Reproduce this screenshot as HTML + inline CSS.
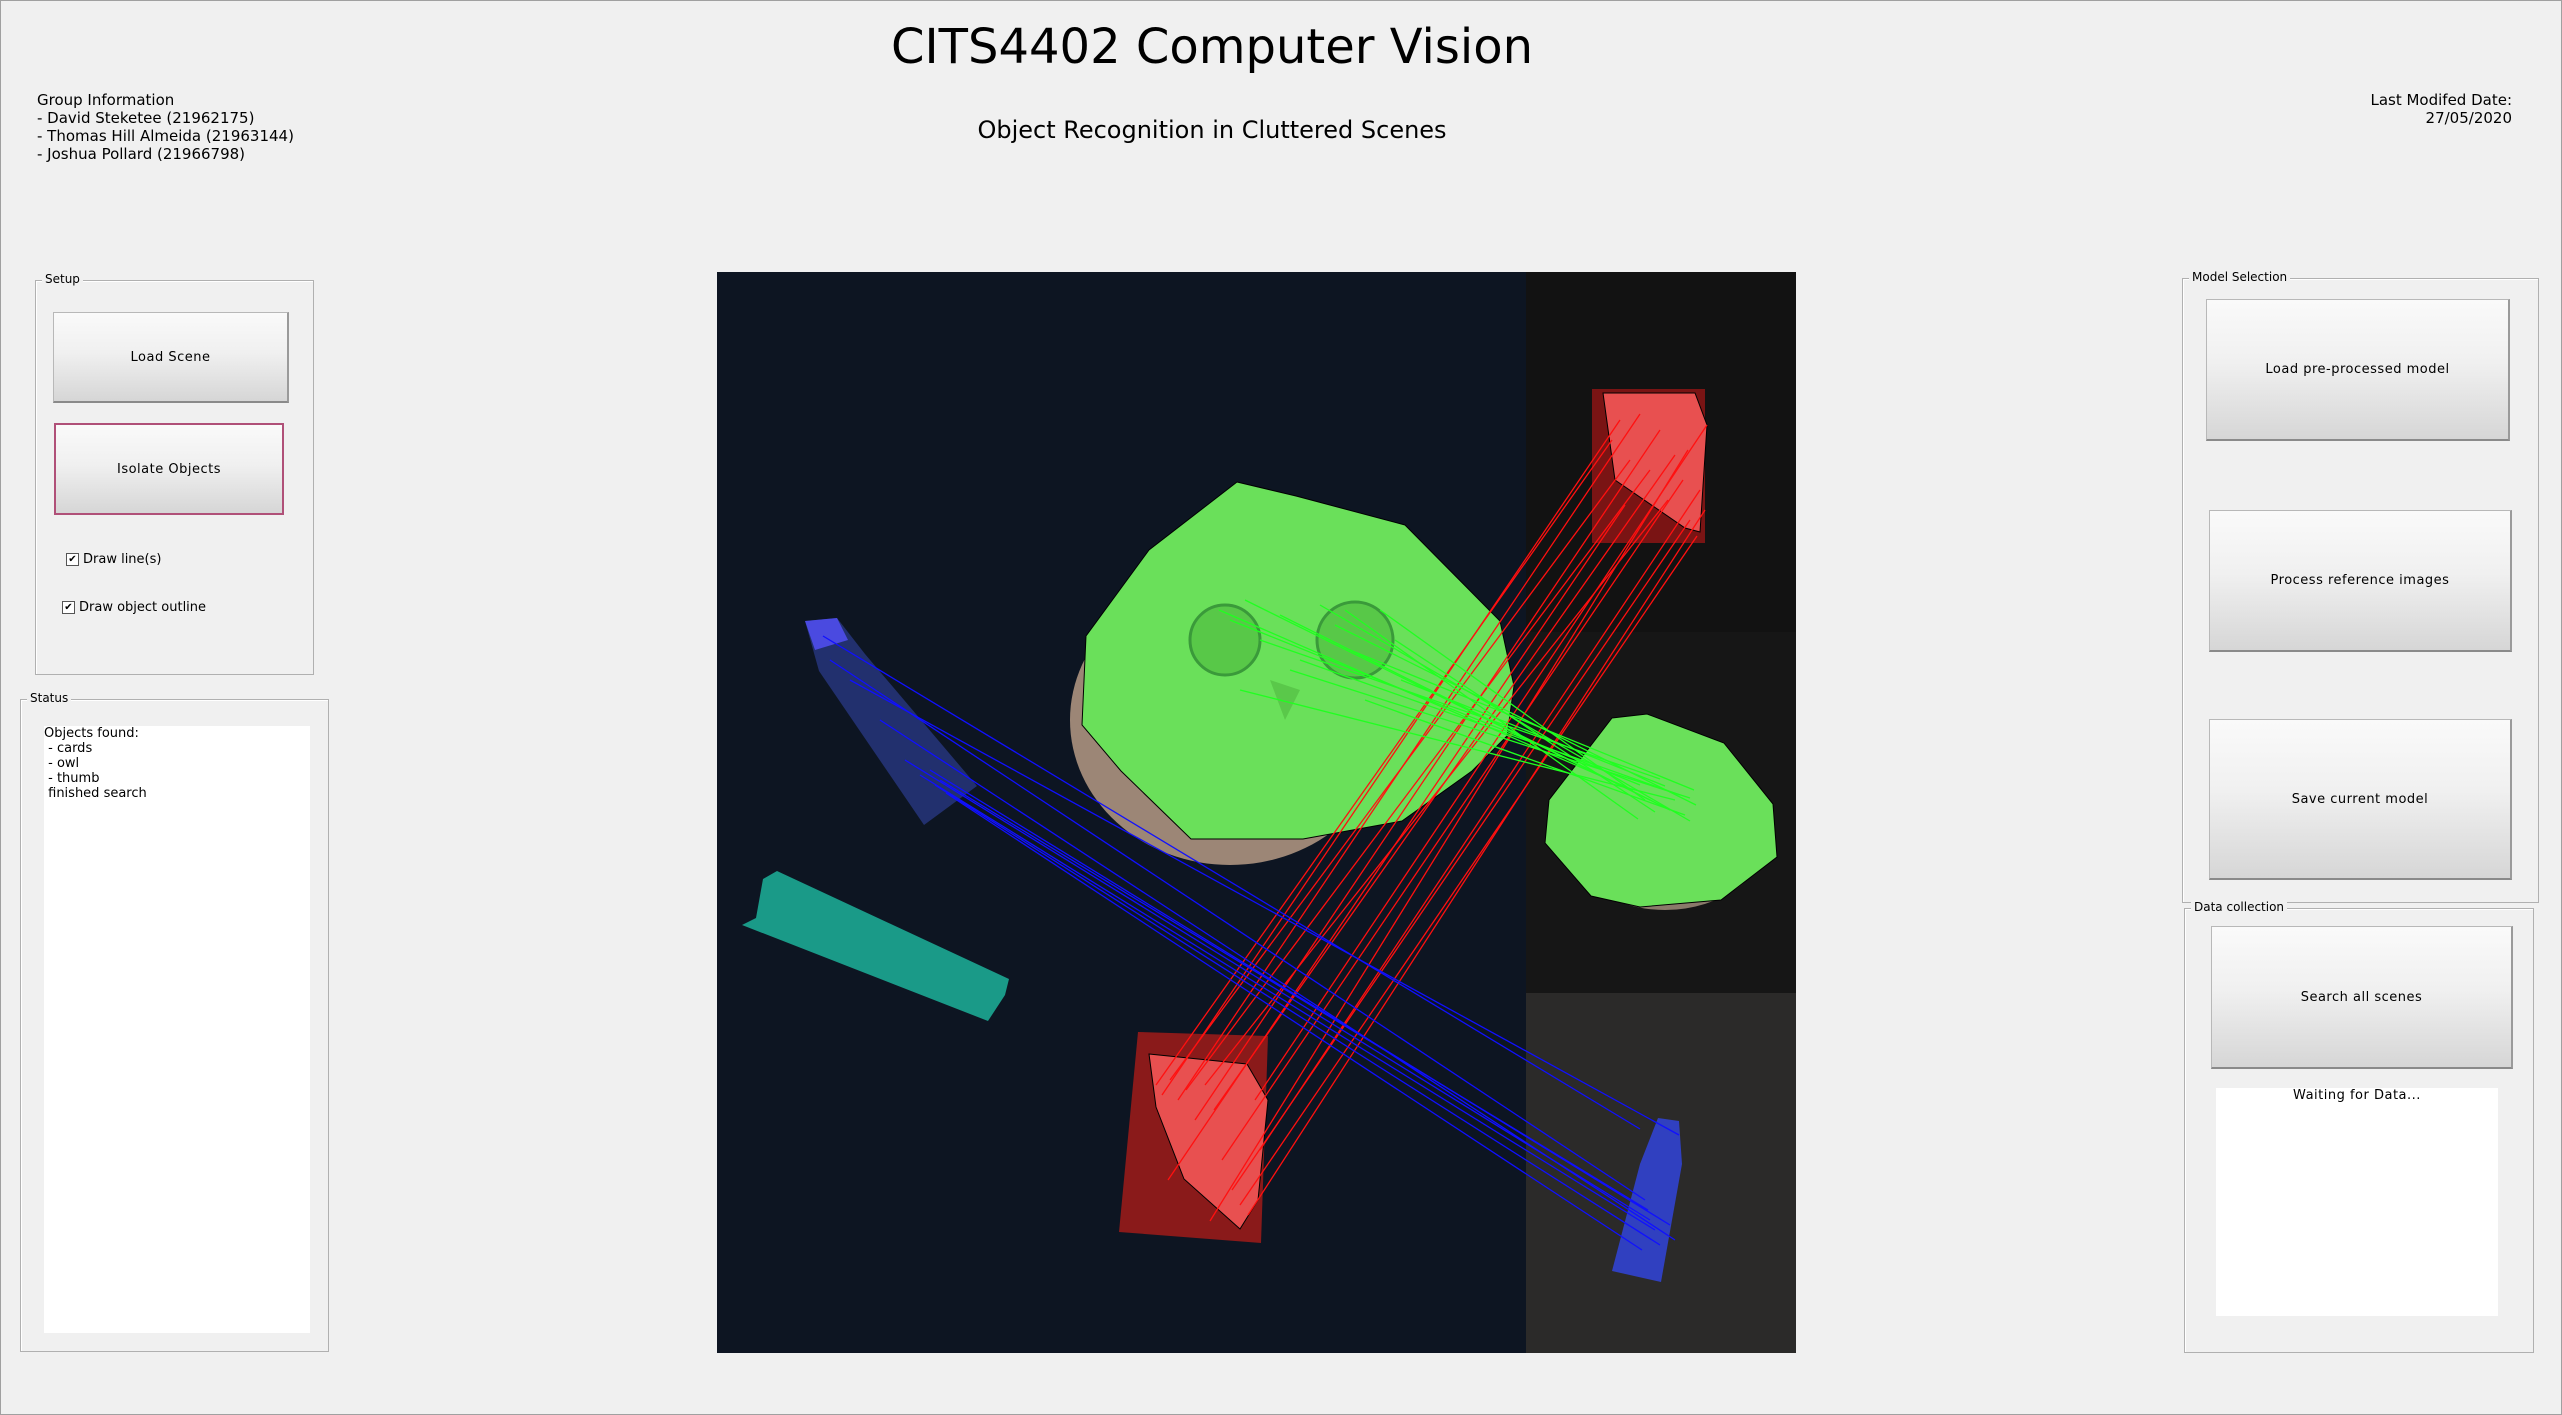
<!DOCTYPE html>
<html><head><meta charset="utf-8"><style>
body{margin:0;width:2562px;height:1415px;background:#f0f0f0;position:relative;overflow:hidden;font-family:"DejaVu Sans","Liberation Sans",sans-serif;color:#000}
.frame{position:absolute;left:0;top:0;width:2560px;height:1413px;border:1px solid #a0a0a0}
.abs{position:absolute}
.btn{position:absolute;background:linear-gradient(#fafafa,#f0f0f0 45%,#d6d6d6);border:1px solid #b8b8b8;border-bottom:2px solid #8a8a8a;border-right:2px solid #9a9a9a;display:flex;align-items:center;justify-content:center;font-size:13px;letter-spacing:.5px;box-sizing:border-box}
.group{position:absolute;border:1px solid #b0b0b0;box-shadow:inset 1px 1px 0 #fff}
.glabel{position:absolute;top:-9px;left:6px;background:#f0f0f0;padding:0 3px;font-size:12px}
.chk{position:absolute;font-size:13px;display:flex;align-items:center;gap:4px}
.chk span.box{width:11px;height:11px;border:1px solid #555;background:#fff;font-size:10px;line-height:11px;text-align:center}
</style></head><body>
<div class="frame"></div>
<div class="abs" style="left:0;width:2424px;top:19px;text-align:center;font-size:48px">CITS4402 Computer Vision</div>
<div class="abs" style="left:0;width:2424px;top:116px;text-align:center;font-size:24px">Object Recognition in Cluttered Scenes</div>
<div class="abs" style="left:37px;top:91px;font-size:15px;line-height:18px">Group Information<br>- David Steketee (21962175)<br>- Thomas Hill Almeida (21963144)<br>- Joshua Pollard (21966798)</div>
<div class="abs" style="right:50px;top:91px;font-size:15px;line-height:18px;text-align:right">Last Modifed Date:<br>27/05/2020</div>

<div class="group" style="left:35px;top:280px;width:277px;height:393px"><div class="glabel">Setup</div></div>
<div class="btn" style="left:53px;top:312px;width:236px;height:91px">Load Scene</div>
<div class="btn" style="left:54px;top:423px;width:230px;height:92px;border:2px solid #b05078">Isolate Objects</div>
<div class="chk" style="left:66px;top:552px"><span class="box">✔</span>Draw line(s)</div>
<div class="chk" style="left:62px;top:600px"><span class="box">✔</span>Draw object outline</div>

<div class="group" style="left:20px;top:699px;width:307px;height:651px"><div class="glabel">Status</div></div>
<div class="abs" style="left:44px;top:726px;width:266px;height:607px;background:#fff;font-size:13px;line-height:15px;white-space:pre">Objects found:
 - cards
 - owl
 - thumb
 finished search</div>

<div class="group" style="left:2182px;top:278px;width:355px;height:623px"><div class="glabel">Model Selection</div></div>
<div class="btn" style="left:2206px;top:299px;width:304px;height:142px">Load pre-processed model</div>
<div class="btn" style="left:2209px;top:510px;width:303px;height:142px">Process reference images</div>
<div class="btn" style="left:2209px;top:719px;width:303px;height:161px">Save current model</div>

<div class="group" style="left:2184px;top:908px;width:348px;height:443px"><div class="glabel">Data collection</div></div>
<div class="btn" style="left:2211px;top:926px;width:302px;height:143px">Search all scenes</div>
<div class="abs" style="left:2216px;top:1088px;width:282px;height:228px;background:#fff;text-align:center;font-size:13px;letter-spacing:.5px">Waiting for Data...</div>

<svg class="abs" style="left:0;top:0" width="2562" height="1415" viewBox="0 0 2562 1415">
<rect x="717" y="272" width="809" height="1081" fill="#0d1522"/>
<rect x="1526" y="272" width="270" height="360" fill="#121212"/>
<rect x="1526" y="632" width="270" height="361" fill="#161616"/>
<rect x="1526" y="993" width="270" height="360" fill="#2b2a29"/>
<ellipse cx="1230" cy="720" rx="160" ry="145" fill="#9c8676"/>
<polygon points="1237,482 1296,496 1405,525 1500,621 1514,686 1507,736 1472,771 1402,821 1303,839 1191,839 1121,771 1082,725 1086,636 1149,550" fill="#6ae05a" stroke="#000" stroke-width="1"/>
<path d="M1190,640 a35,35 0 1,0 70,0 a35,35 0 1,0 -70,0" fill="#58c848" stroke="#3a9a3a" stroke-width="3"/>
<path d="M1317,640 a38,38 0 1,0 76,0 a38,38 0 1,0 -76,0" fill="#58c848" stroke="#3a9a3a" stroke-width="3"/>
<polygon points="1270,680 1300,690 1285,720" fill="#5ac84a"/>
<ellipse cx="1665" cy="830" rx="105" ry="80" fill="#8a7a6a"/>
<polygon points="1612,718 1647,714 1724,743 1773,804 1777,857 1721,900 1640,907 1591,896 1545,843 1549,800" fill="#6ae05a" stroke="#000" stroke-width="1"/>
<rect x="1592" y="389" width="113" height="154" fill="#7a1414"/>
<polygon points="1603,393 1695,393 1707,425 1700,532 1685,528 1615,480" fill="#e85050" stroke="#000" stroke-width="1"/>
<polygon points="1138,1032 1268,1036 1261,1243 1119,1232" fill="#8a1a1a"/>
<polygon points="1149,1054 1247,1064 1268,1100 1258,1200 1240,1229 1184,1179 1156,1107" fill="#e85050" stroke="#000" stroke-width="1"/>
<polygon points="805,621 837,618 865,654 977,786 924,825 819,671" fill="#22306e"/>
<polygon points="805,621 837,618 848,640 815,650" fill="#4a4ae0"/>
<polygon points="763,879 777,871 1009,979 1005,995 988,1021 742,925 756,918" fill="#1a9a88"/>
<polygon points="1658,1118 1679,1121 1682,1164 1661,1282 1612,1271 1640,1164" fill="#3040c0"/>
<g id="matches"></g>
</svg>
<script>
const redSrcX=[1156,1162,1170,1178,1186,1195,1205,1214,1222,1232,1240,1248,1255,1260,1168,1210];
const redSrcY=[1085,1095,1080,1100,1090,1120,1085,1110,1160,1190,1205,1215,1100,1150,1180,1221];
const redDstX=[1612,1620,1630,1640,1650,1660,1668,1675,1683,1690,1697,1705,1707,1700,1625,1688];
const redDstY=[440,420,460,414,470,430,500,455,480,520,536,510,425,490,505,450];
const greenSrcX=[1219,1230,1245,1260,1280,1300,1320,1335,1350,1365,1380,1395,1401,1240,1290,1345];
const greenSrcY=[610,620,600,640,615,660,605,625,650,700,610,640,680,690,670,610];
const greenDstX=[1633,1640,1650,1660,1670,1680,1690,1696,1694,1685,1645,1655,1665,1675,1690,1638];
const greenDstY=[790,785,800,779,810,795,821,805,790,815,800,812,786,800,798,819];
const blueSrcX=[823,830,850,880,905,920,935,946,940,930];
const blueSrcY=[636,660,680,720,760,775,785,793,780,770];
const blueDstX=[1640,1645,1679,1675,1650,1655,1660,1642,1648,1670];
const blueDstY=[1129,1200,1135,1240,1220,1230,1245,1250,1210,1225];
const g=document.getElementById('matches');
function drawSet(sx,sy,dx,dy,color,name){
  for(let i=0;i<sx.length;i++){
    const l=document.createElementNS('http://www.w3.org/2000/svg','line');
    l.setAttribute('x1',sx[i]);l.setAttribute('y1',sy[i]);
    l.setAttribute('x2',dx[i]);l.setAttribute('y2',dy[i]);
    l.setAttribute('stroke',color);l.setAttribute('stroke-width','1.3');
    
    
    g.appendChild(l);
  }
}
drawSet(redSrcX,redSrcY,redDstX,redDstY,'#ff1010','cards-match-line');
drawSet(greenSrcX,greenSrcY,greenDstX,greenDstY,'#20ff20','owl-match-line');
drawSet(blueSrcX,blueSrcY,blueDstX,blueDstY,'#1010ff','usb-match-line');
</script>
</body></html>
